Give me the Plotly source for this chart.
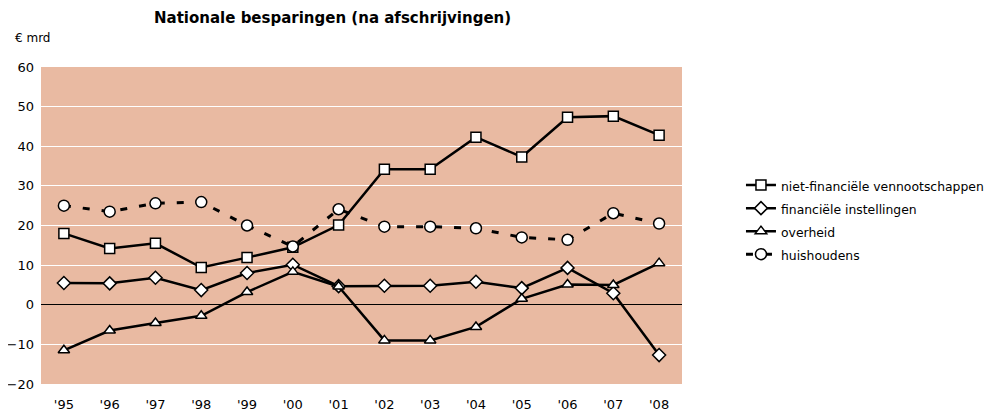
import plotly.graph_objects as go

years = ["'95", "'96", "'97", "'98", "'99", "'00", "'01", "'02", "'03", "'04", "'05", "'06", "'07", "'08"]
niet_fin = [18.0, 14.2, 15.5, 9.4, 11.9, 14.5, 20.1, 34.2, 34.2, 42.3, 37.3, 47.3, 47.6, 42.8]
financieel = [5.5, 5.4, 6.8, 3.7, 8.0, 10.1, 4.7, 4.8, 4.8, 5.8, 4.2, 9.3, 2.9, -12.7]
overheid = [-11.5, -6.5, -4.6, -2.8, 3.2, 8.3, 4.6, -9.0, -9.0, -5.6, 1.5, 5.1, 5.0, 10.5]
huishoudens = [25.0, 23.5, 25.6, 25.9, 20.0, 14.7, 24.1, 19.7, 19.7, 19.3, 17.0, 16.4, 23.1, 20.5]
y_ticks = [-20, -10, 0, 10, 20, 30, 40, 50, 60]
series_names = ["niet-financiële vennootschappen", "financiële instellingen", "overheid", "huishoudens"]

FONT = "DejaVu Sans, Liberation Sans, Arial, sans-serif"
mk_line = dict(color="black", width=1.5)


def lg(name):
    return "<span style='font-size:12.4px'>" + name + "</span>"


fig = go.Figure()
fig.add_trace(go.Scatter(x=years, y=niet_fin, name=lg(series_names[0]),
                         mode="lines+markers", line=dict(color="black", width=2.5),
                         marker=dict(symbol="square", size=10, color="white", line=mk_line)))
fig.add_trace(go.Scatter(x=years, y=financieel, name=lg(series_names[1]),
                         mode="lines+markers", line=dict(color="black", width=2.5),
                         marker=dict(symbol="diamond", size=10, color="white", line=mk_line)))
fig.add_trace(go.Scatter(x=years, y=overheid, name=lg(series_names[2]),
                         mode="lines+markers", line=dict(color="black", width=2.5),
                         marker=dict(symbol="triangle-up", size=10, color="white", line=mk_line)))
fig.add_trace(go.Scatter(x=years, y=huishoudens, name=lg(series_names[3]),
                         mode="lines+markers", line=dict(color="black", width=3, dash="7px,12px"),
                         marker=dict(symbol="circle", size=11, color="white", line=mk_line)))

fig.update_layout(
    width=994, height=406,
    margin=dict(l=33, r=320, t=59, b=30, autoexpand=False),
    paper_bgcolor="white", plot_bgcolor="#E9BAA2",
    font=dict(family=FONT, size=13, color="black"),
    showlegend=True,
    legend=dict(x=1.092, xanchor="left", y=0.517, yanchor="middle",
                font=dict(family=FONT, size=15.4, color="black"),
                bgcolor="rgba(0,0,0,0)", tracegroupgap=0),
    annotations=[
        dict(text="<b>Nationale besparingen (na afschrijvingen)</b>", xref="paper", yref="paper",
             x=0.455, y=1.0, yshift=49, xanchor="center", yanchor="middle", showarrow=False,
             font=dict(family=FONT, size=15, color="black")),
        dict(text="€ mrd", xref="paper", yref="paper", x=0, xshift=-28, y=1.0, yshift=29,
             xanchor="left", yanchor="middle", showarrow=False,
             font=dict(family=FONT, size=12, color="black")),
    ],
)
fig.update_xaxes(type="category", range=[-0.5, 13.5], showgrid=False, zeroline=False,
                 showline=False, ticks="", ticklabelstandoff=11, tickfont=dict(size=13))
fig.update_yaxes(range=[-20, 60], tickvals=y_ticks, showgrid=True, gridcolor="white",
                 gridwidth=1, zeroline=True, zerolinecolor="black", zerolinewidth=1,
                 showline=False, ticks="", ticklabelstandoff=6, tickfont=dict(size=13))

fig.write_html("out.html")
